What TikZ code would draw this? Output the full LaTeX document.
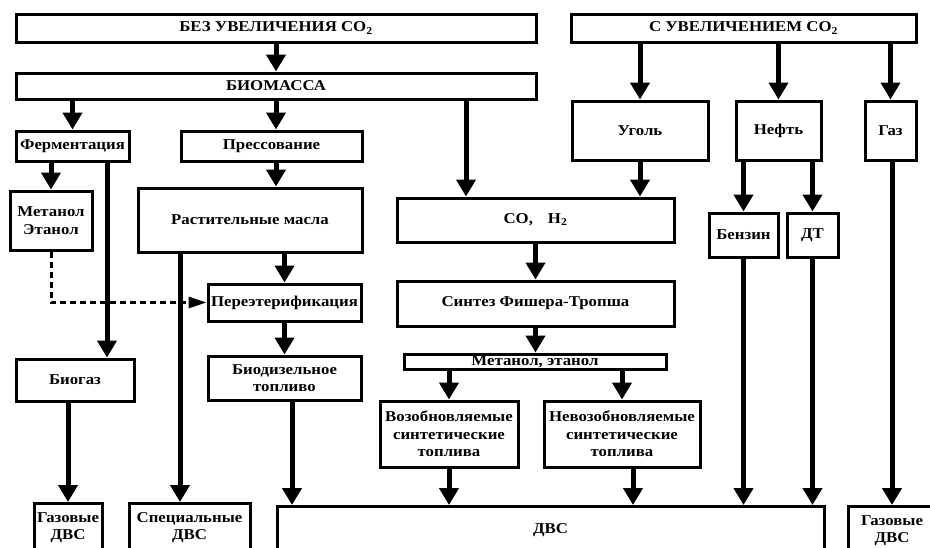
\documentclass[tikz,border=0pt]{standalone}
\usepackage{fontspec}
\setmainfont{Liberation Serif}[FakeStretch=1.12]
\usetikzlibrary{arrows.meta}

\begin{document}
\begin{tikzpicture}[x=1pt,y=-1pt,line width=3pt,
                    >={Triangle[width=19pt,length=17pt]},
                    font=\fontsize{15}{17.5}\selectfont\bfseries]
  \tikzstyle{box}=[draw=black,inner sep=0pt,align=center]
  \tikzstyle{pipe}=[->,line width=5pt]
  \tikzstyle{feed}=[-{Triangle[width=11pt,length=18pt]},dash pattern=on 6pt off 4pt]
  \useasboundingbox (0,0) rectangle (930,547);
  \clip (0,0) rectangle (930,547);

  \node[box,minimum width=520pt,minimum height=28pt] (noinc) at (276,28)
  {БЕЗ УВЕЛИЧЕНИЯ CO\textsubscript{2}};
  \node[box,minimum width=345pt,minimum height=28pt] (inc) at (743.5,28)
  {С УВЕЛИЧЕНИЕМ CO\textsubscript{2}};
  \node[box,minimum width=520pt,minimum height=26pt] (biomass) at (276,86) {БИОМАССА};
  \node[box,minimum width=113pt,minimum height=30pt] (ferm) at (72.5,146) {Ферментация};
  \node[box,minimum width=181pt,minimum height=30pt] (press) at (271.5,146) {Прессование};
  \node[box,minimum width=136pt,minimum height=59pt] (coal) at (640,130.5) {Уголь};
  \node[box,minimum width=85pt,minimum height=59pt]  (oil) at (778.5,130.5) {Нефть};
  \node[box,minimum width=51pt,minimum height=59pt]  (gas) at (890.5,130.5) {Газ};
  \node[box,minimum width=82pt,minimum height=59pt]  (meth) at (51,220.5) {Метанол\\Этанол};
  \node[box,minimum width=224pt,minimum height=64pt] (oils) at (250,220) {Растительные масла};
  \node[box,minimum width=277pt,minimum height=44pt] (syngas) at (535.5,220)
  {CO,\quad H\textsubscript{2}};
  \node[box,minimum width=69pt,minimum height=44pt]  (petrol) at (743.5,235) {Бензин};
  \node[box,minimum width=51pt,minimum height=44pt]  (diesel) at (812.5,235) {ДТ};
  \node[box,minimum width=153pt,minimum height=37pt] (trans) at (284.5,302.5) {Переэтерификация};
  \node[box,minimum width=277pt,minimum height=45pt] (ft) at (535.5,303.5) {Синтез Фишера-Тропша};
  \node[box,minimum width=118pt,minimum height=42pt] (biogas) at (75,380) {Биогаз};
  \node[box,minimum width=153pt,minimum height=44pt] (biodiesel) at (284.5,378)
  {Биодизельное\\топливо};
  \node[box,minimum width=262pt,minimum height=15pt] (alc) at (535,361.5) {Метанол, этанол};
  \node[box,minimum width=138pt,minimum height=66pt] (renew) at (449,434)
  {Возобновляемые\\синтетические\\топлива};
  \node[box,minimum width=156pt,minimum height=66pt] (nonrenew) at (622,434)
  {Невозобновляемые\\синтетические\\топлива};
  \node[box,anchor=north,minimum width=68pt,minimum height=48pt]  (gasice1) at (68,502)
  {Газовые\\ДВС};
  \node[box,anchor=north,minimum width=121pt,minimum height=48pt] (special) at (189.5,502)
  {Специальные\\ДВС};
  \node[box,anchor=north,minimum width=547pt,minimum height=48pt] (ice) at (550.5,505) {ДВС};
  \node[box,anchor=north,minimum width=88pt,minimum height=48pt]  (gasice2) at (892,505)
  {Газовые\\ДВС};

  \coordinate (bioin)   at ([xshift=-69.5pt]syngas.north);
  \coordinate (fermout) at ([xshift=32pt]biogas.north);
  \coordinate (oilsout) at ([xshift=-9.5pt]special.north);
  \coordinate (bdout)   at ([xshift=7.5pt]biodiesel.south);
  \coordinate (nrout)   at ([xshift=11pt]nonrenew.south);

  % no CO2 growth
  \draw[pipe] (noinc) -- (biomass);
  \draw[pipe] (biomass.south -| ferm) -- (ferm);
  \draw[pipe] (biomass.south -| noinc) -- (press.north -| noinc);
  \draw[pipe] (biomass.south -| bioin) -- (bioin);
  \draw[pipe] (ferm.south -| meth) -- (meth);
  \draw[pipe] (ferm.south -| fermout) -- (fermout);
  \draw[pipe] (press.south -| noinc) -- (oils.north -| noinc);
  \draw[pipe] (oils.south -| oilsout) -- (oilsout);
  \draw[pipe] (oils.south -| trans) -- (trans);
  \draw[feed] (meth) |- (trans);
  \draw[pipe] (trans) -- (biodiesel);
  \draw[pipe] (biogas.south -| gasice1) -- (gasice1);
  \draw[pipe] (bdout) -- (ice.north -| bdout);
  % CO2 growth
  \draw[pipe] (inc.south -| coal) -- (coal);
  \draw[pipe] (inc.south -| oil) -- (oil);
  \draw[pipe] (inc.south -| gas) -- (gas);
  \draw[pipe] (coal) -- (syngas.north -| coal);
  \draw[pipe] (oil.south -| petrol) -- (petrol);
  \draw[pipe] (oil.south -| diesel) -- (diesel);
  \draw[pipe] (gas.south -| gasice2) -- (gasice2);
  % synthesis
  \draw[pipe] (syngas) -- (ft);
  \draw[pipe] (ft.south -| syngas) -- (alc.north -| syngas);
  \draw[pipe] (alc.south -| renew) -- (renew);
  \draw[pipe] (alc.south -| nonrenew) -- (nonrenew);
  \draw[pipe] (renew) -- (ice.north -| renew);
  \draw[pipe] (nrout) -- (ice.north -| nrout);
  \draw[pipe] (petrol) -- (ice.north -| petrol);
  \draw[pipe] (diesel) -- (ice.north -| diesel);
\end{tikzpicture}
\end{document}
